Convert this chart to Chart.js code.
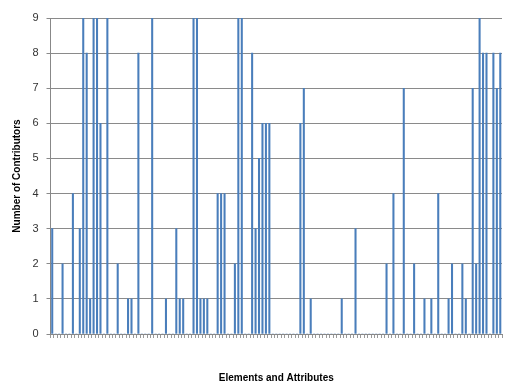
<!DOCTYPE html>
<html>
<head>
<meta charset="utf-8">
<script src="https://cdn.jsdelivr.net/npm/chart.js@4.4.1/dist/chart.umd.min.js"></script>
<style>
  html, body { margin: 0; padding: 0; background: #fff; }
  canvas { display: block; }
</style>
</head>
<body>
<canvas id="chart" width="514" height="391"></canvas>
<script>
// contributors per element / attribute (131 categories)
const contributors = [
  3, 0, 0, 2, 0, 0, 4, 0, 3, 9,
  8, 1, 9, 9, 6, 0, 9, 0, 0, 2,
  0, 0, 1, 1, 0, 8, 0, 0, 0, 9,
  0, 0, 0, 1, 0, 0, 3, 1, 1, 0,
  0, 9, 9, 1, 1, 1, 0, 0, 4, 4,
  4, 0, 0, 2, 9, 9, 0, 0, 8, 3,
  5, 6, 6, 6, 0, 0, 0, 0, 0, 0,
  0, 0, 6, 7, 0, 1, 0, 0, 0, 0,
  0, 0, 0, 0, 1, 0, 0, 0, 3, 0,
  0, 0, 0, 0, 0, 0, 0, 2, 0, 4,
  0, 0, 7, 0, 0, 2, 0, 0, 1, 0,
  1, 0, 4, 0, 0, 1, 2, 0, 0, 2,
  1, 0, 7, 2, 9, 8, 8, 0, 8, 7,
  8
];
const categories = contributors.map((_, i) => "item " + (i + 1));
const yTicks = [0, 1, 2, 3, 4, 5, 6, 7, 8, 9];

const chart = new Chart(document.getElementById("chart"), {
  type: "bar",
  data: {
    labels: categories,
    datasets: [{
      data: contributors,
      backgroundColor: "#4a7ebb",
      barThickness: 1.4
    }]
  },
  options: {
    responsive: false,
    animation: false,
    layout: { padding: { left: 0, top: 18, right: 12, bottom: 0 } },
    plugins: { legend: { display: false }, tooltip: { enabled: false } },
    scales: {
      x: {
        grid: { display: true, drawOnChartArea: false, drawTicks: true, tickLength: 4, color: "#999" },
        border: { color: "#888" },
        ticks: { autoSkip: false, maxRotation: 0, callback: () => "" },
        title: {
          display: true,
          text: "Elements and Attributes",
          color: "#000",
          font: { family: "Liberation Sans", size: 10, weight: "bold" },
          padding: { top: 0, bottom: 7 }
        },
        afterFit: (s) => { s.height = 57; }
      },
      y: {
        min: 0,
        max: 9,
        afterBuildTicks: (s) => { s.ticks = yTicks.map((v) => ({ value: v })); },
        grid: { color: "#8a8a8a", tickLength: 4 },
        border: { color: "#888" },
        ticks: {
          padding: 8,
          color: "#333",
          font: { family: "Liberation Sans", size: 11 }
        },
        title: {
          display: true,
          text: "Number of Contributors",
          color: "#000",
          font: { family: "Liberation Sans", size: 10, weight: "bold" },
          padding: { top: 11, bottom: 0 }
        },
        afterFit: (s) => { s.width = 50.5; }
      }
    }
  }
});
</script>
</body>
</html>
